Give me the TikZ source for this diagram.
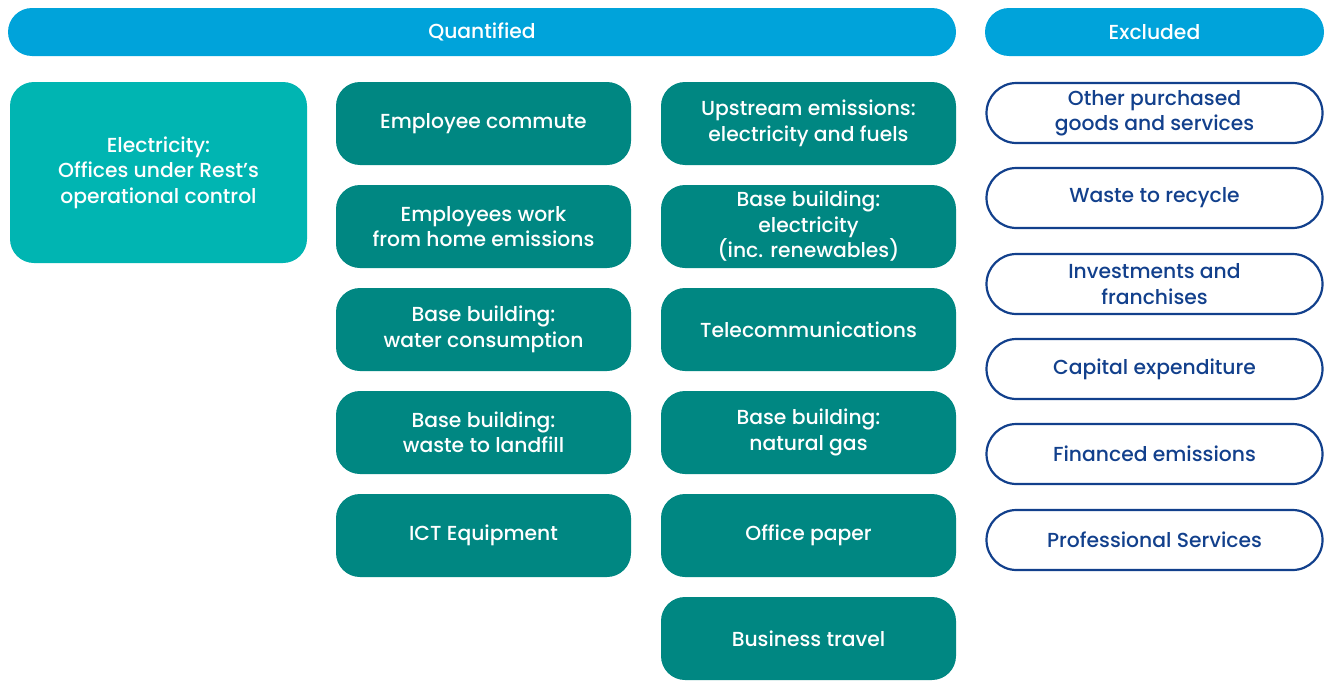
\documentclass[tikz,border=0pt]{standalone}
\usepackage{fontspec}
\setmainfont{Poppins}[UprightFont={* Medium}]
\usetikzlibrary{positioning}

\definecolor{barblue}{RGB}{0,163,218}
\definecolor{lightteal}{RGB}{0,181,178}
\definecolor{darkteal}{RGB}{0,135,130}
\definecolor{navy}{RGB}{18,64,140}

\tikzset{
    header/.style={fill=barblue, text=white, rounded corners=24pt,
        minimum height=48pt, inner sep=0pt},
    quantbox/.style={fill=darkteal, text=white, rounded corners=24pt,
        minimum width=295pt, minimum height=83pt, align=center, inner sep=0pt},
    exclbox/.style={draw=navy, line width=2.2pt, text=navy, rounded corners=30pt,
        minimum width=336pt, minimum height=60pt, align=center, inner sep=0pt},
}

\begin{document}
\begin{tikzpicture}[x=1pt,y=-1pt,font=\fontsize{20.3}{25.5}\selectfont]%
    \useasboundingbox (0,0) rectangle (1325,680);

    % headers
    \node[header, minimum width=948pt] (quant) at (482,32) {Quantified};
    \node[header, minimum width=339pt] (excl) at (1154.5,32) {Excluded};

    % scope 2
    \node[quantbox, fill=lightteal, minimum width=297pt, minimum height=181pt]
        (elec) at (158.5,172.5) {Electricity:\\Offices under Rest’s\\operational control};

    % scope 3, first column
    \node[quantbox] (commute)  at (483.5,123.5) {Employee commute};
    \node[quantbox] (wfh)      at (483.5,226.5) {Employees work\\from home emissions};
    \node[quantbox] (water)    at (483.5,329.5) {Base building:\\water consumption};
    \node[quantbox] (landfill) at (483.5,432.5) {Base building:\\waste to landfill};
    \node[quantbox] (ict)      at (483.5,535.5) {ICT Equipment};

    % scope 3, second column
    \node[quantbox] (upstream) at (808.5,123.5) {Upstream emissions:\\electricity and fuels};
    \node[quantbox] (basecl)   at (808.5,226.5) {Base building:\\electricity\\(inc. renewables)};
    \node[quantbox] (telco)    at (808.5,329.5) {Telecommunications};
    \node[quantbox] (gas)      at (808.5,432.5) {Base building:\\natural gas};
    \node[quantbox] (paper)    at (808.5,535.5) {Office paper};
    \node[quantbox] (travel)   at (808.5,638.5) {Business travel};

    % excluded
    \node[exclbox] (goods)    at (1154.5,113) {Other purchased\\goods and services};
    \node[exclbox] (recycle)  at (1154.5,198) {Waste to recycle};
    \node[exclbox] (invest)   at (1154.5,284) {Investments and\\franchises};
    \node[exclbox] (capex)    at (1154.5,369) {Capital expenditure};
    \node[exclbox] (financed) at (1154.5,454) {Financed emissions};
    \node[exclbox] (profserv) at (1154.5,540) {Professional Services};
\end{tikzpicture}
\end{document}
